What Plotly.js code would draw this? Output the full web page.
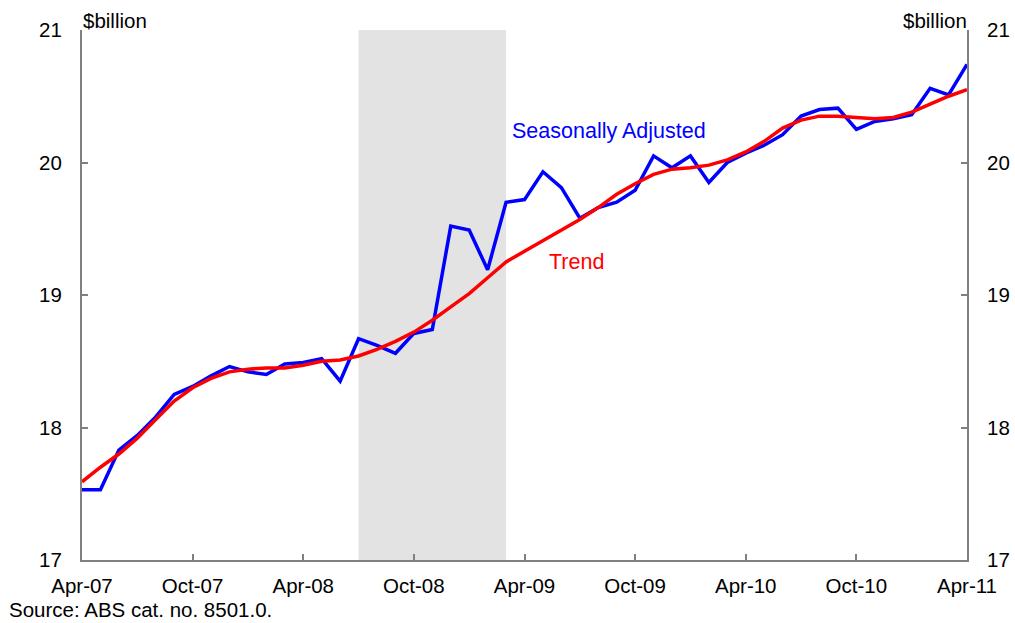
<!DOCTYPE html>
<html><head><meta charset="utf-8">
<script src="https://cdn.plot.ly/plotly-3.0.1.min.js"></script>
<style>html,body{margin:0;padding:0;background:#fff}#chart{width:1015px;height:623px}</style>
</head><body><div id="chart"></div>
<script>
const months = ["Apr-07","May-07","Jun-07","Jul-07","Aug-07","Sep-07","Oct-07","Nov-07","Dec-07","Jan-08","Feb-08","Mar-08",
"Apr-08","May-08","Jun-08","Jul-08","Aug-08","Sep-08","Oct-08","Nov-08","Dec-08","Jan-09","Feb-09","Mar-09",
"Apr-09","May-09","Jun-09","Jul-09","Aug-09","Sep-09","Oct-09","Nov-09","Dec-09","Jan-10","Feb-10","Mar-10",
"Apr-10","May-10","Jun-10","Jul-10","Aug-10","Sep-10","Oct-10","Nov-10","Dec-10","Jan-11","Feb-11","Mar-11","Apr-11"];
const seasonallyAdjusted = [17.53,17.53,17.83,17.94,18.08,18.25,18.31,18.39,18.46,18.42,18.40,18.48,
18.49,18.52,18.35,18.67,18.62,18.56,18.71,18.74,19.52,19.49,19.19,19.70,
19.72,19.93,19.81,19.58,19.66,19.70,19.79,20.05,19.96,20.05,19.85,20.00,
20.07,20.13,20.21,20.35,20.40,20.41,20.25,20.31,20.33,20.36,20.56,20.51,20.74];
const trend = [17.59,17.70,17.80,17.92,18.06,18.20,18.30,18.37,18.42,18.44,18.45,18.45,
18.47,18.50,18.51,18.54,18.59,18.65,18.72,18.81,18.91,19.01,19.13,19.25,
19.33,19.41,19.49,19.57,19.66,19.76,19.84,19.91,19.95,19.96,19.98,20.02,
20.08,20.16,20.26,20.32,20.35,20.35,20.34,20.33,20.34,20.38,20.44,20.50,20.55];
const xTickLabels = ["Apr-07","Oct-07","Apr-08","Oct-08","Apr-09","Oct-09","Apr-10","Oct-10","Apr-11"];
const yTicks = [17,18,19,20,21];
const shadeStart = "Jul-08", shadeEnd = "Mar-09";

const F = "Liberation Sans, Arial, sans-serif";
const grey = "#808080";
const FS = 20.5;
const traces = [
  {x: months, y: seasonallyAdjusted, type: "scatter", mode: "lines", line: {color: "#0000ff", width: 3.5}, hoverinfo: "skip", showlegend: false},
  {x: months, y: trend, type: "scatter", mode: "lines", line: {color: "#ff0000", width: 3.5}, hoverinfo: "skip", showlegend: false},
  {x: months, y: trend, yaxis: "y2", type: "scatter", mode: "lines", line: {color: "rgba(0,0,0,0)", width: 0}, hoverinfo: "skip", showlegend: false}
];
const axisY = {
  range: [17, 21], tickvals: yTicks, ticks: "inside", ticklen: 6, tickcolor: grey, tickwidth: 2,
  showline: true, linecolor: grey, linewidth: 2, showgrid: false, zeroline: false,
  tickfont: {family: F, size: FS, color: "#000"}, ticklabelstandoff: 14
};
const layout = {
  width: 1015, height: 623,
  margin: {l: 82, r: 48, t: 30, b: 63},
  paper_bgcolor: "#fff", plot_bgcolor: "#fff",
  font: {family: F, size: FS, color: "#000"},
  xaxis: {
    type: "category", range: [0, months.length - 1], tickvals: xTickLabels, ticktext: xTickLabels,
    ticks: "inside", ticklen: 6, tickcolor: grey, tickwidth: 2,
    showline: true, linecolor: grey, linewidth: 2, showgrid: false, zeroline: false,
    tickfont: {family: F, size: FS, color: "#000"}, ticklabelstandoff: 6
  },
  yaxis: Object.assign({}, axisY, {side: "left"}),
  yaxis2: Object.assign({}, axisY, {side: "right", overlaying: "y"}),
  shapes: [{type: "rect", xref: "x", yref: "paper", x0: months.indexOf(shadeStart), x1: months.indexOf(shadeEnd), y0: 0, y1: 1,
    fillcolor: "#e3e3e3", line: {width: 0}, layer: "below"}],
  annotations: [
    {text: "$billion", xref: "paper", yref: "paper", x: 0, y: 1, xanchor: "left", yanchor: "bottom", showarrow: false, xshift: -1, yshift: -4, font: {family: F, size: FS}},
    {text: "$billion", xref: "paper", yref: "paper", x: 1, y: 1, xanchor: "right", yanchor: "bottom", showarrow: false, xshift: 2, yshift: -4, font: {family: F, size: FS}},
    {text: "Seasonally Adjusted", xref: "x", yref: "y", x: months.indexOf("Jul-09") + 1.6, y: 20.24, xanchor: "center", yanchor: "middle", showarrow: false, font: {family: F, size: 21.5, color: "#0000ff"}},
    {text: "Trend", xref: "x", yref: "y", x: months.indexOf("Jul-09") - 0.2, y: 19.25, xanchor: "center", yanchor: "middle", showarrow: false, font: {family: F, size: 21.5, color: "#ff0000"}},
    {text: "Source: ABS cat. no. 8501.0.", xref: "paper", yref: "paper", x: 0, y: 0, xanchor: "left", yanchor: "middle", xshift: -75, yshift: -49, showarrow: false, font: {family: F, size: FS}}
  ]
};
Plotly.newPlot("chart", traces, layout, {displayModeBar: false, staticPlot: true});
</script></body></html>
